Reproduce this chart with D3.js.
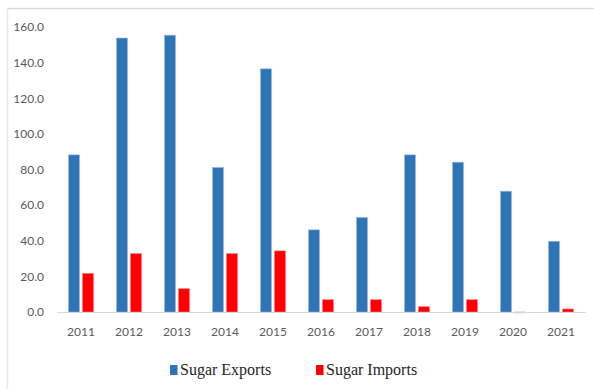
<!DOCTYPE html>
<html>
<head>
<meta charset="utf-8">
<script src="https://cdn.jsdelivr.net/npm/d3@7/dist/d3.min.js"></script>
<style>
  html, body { margin: 0; padding: 0; background: #fff; }
  svg { display: block; }
</style>
</head>
<body>
<svg id="chart" width="594" height="389"></svg>
<script>
// Sugar trade by year (thousand tonnes)
const years = ["2011","2012","2013","2014","2015","2016","2017","2018","2019","2020","2021"];
const exportsVals = [88.2, 153.8, 155.4, 81.1, 136.5, 46.1, 53.0, 88.2, 84.1, 67.8, 39.7];
const importsVals = [21.7, 32.8, 13.1, 32.8, 34.3, 6.9, 6.9, 3.0, 6.9, -0.5, 1.7];
const yTicks = [0, 20, 40, 60, 80, 100, 120, 140, 160];
const seriesNames = ["Sugar Exports", "Sugar Imports"];
const seriesColors = ["#2E75B6", "#FF0000"];
const seriesStrokes = ["#8FB4DC", "#FF8080"];

const svg = d3.select("#chart");

// frame lines
svg.append("line").attr("x1", 7.5).attr("x2", 594).attr("y1", 8.5).attr("y2", 8.5)
  .attr("stroke", "#d9d9d9").attr("stroke-width", 1.5);
svg.append("line").attr("x1", 7.5).attr("x2", 7.5).attr("y1", 8.5).attr("y2", 389)
  .attr("stroke", "#e6e6e6").attr("stroke-width", 1.5);

const plot = { left: 57, right: 585, top: 27, bottom: 312 };

const x = d3.scaleBand().domain(years).range([plot.left, plot.right]).paddingInner(0).paddingOuter(0);
const xs = d3.scaleBand().domain([0, 1]).range([-12.5, 12.5]).paddingInner(0.22);
const y = d3.scaleLinear().domain([0, 160]).range([plot.bottom, plot.top]);

const data = years.map((yr, i) => ({ year: yr, vals: [exportsVals[i], importsVals[i]] }));

const groups = svg.append("g").selectAll("g").data(data).join("g")
  .attr("transform", d => `translate(${x(d.year) + x.bandwidth() / 2},0)`);

groups.selectAll("rect").data(d => d.vals.map((v, k) => ({ v, k }))).join("rect")
  .attr("x", d => xs(d.k))
  .attr("width", xs.bandwidth())
  .attr("y", d => Math.min(y(d.v), y(0)))
  .attr("height", d => Math.abs(y(d.v) - y(0)))
  .attr("fill", d => d.v < 0 ? "#FFB3B3" : seriesColors[d.k])
  .attr("stroke", d => seriesStrokes[d.k])
  .attr("stroke-width", 0.6);

// baseline
svg.append("line").attr("x1", plot.left).attr("x2", plot.right + 1)
  .attr("y1", y(0) + 0.5).attr("y2", y(0) + 0.5)
  .attr("stroke", "#d9d9d9").attr("stroke-width", 1.2);

// y axis labels
const yAxis = d3.axisLeft(y).tickValues(yTicks).tickFormat(d3.format(".1f")).tickSize(0).tickPadding(0);
const gy = svg.append("g").attr("transform", "translate(44,0)").call(yAxis);
gy.select(".domain").remove();
gy.selectAll("text").attr("font-family", "Lato, 'Open Sans', sans-serif").attr("font-size", 12)
  .attr("fill", "#595959");

// x axis labels
const xAxis = d3.axisBottom(x).tickSize(0).tickPadding(0);
const gx = svg.append("g").attr("transform", "translate(0,327)").call(xAxis);
gx.select(".domain").remove();
gx.selectAll("text").attr("font-family", "Lato, 'Open Sans', sans-serif").attr("font-size", 12)
  .attr("fill", "#595959");

// legend
const legendX = [170, 316];
const legend = svg.append("g").selectAll("g").data(seriesNames).join("g")
  .attr("transform", (d, i) => `translate(${legendX[i]},365)`);
legend.append("rect").attr("width", 7.5).attr("height", 10).attr("fill", (d, i) => seriesColors[i]);
legend.append("text").attr("x", 10).attr("y", 10)
  .attr("font-family", "'Liberation Serif', 'Times New Roman', serif").attr("font-size", 16)
  .attr("fill", "#262626").text(d => d);
</script>
</body>
</html>
